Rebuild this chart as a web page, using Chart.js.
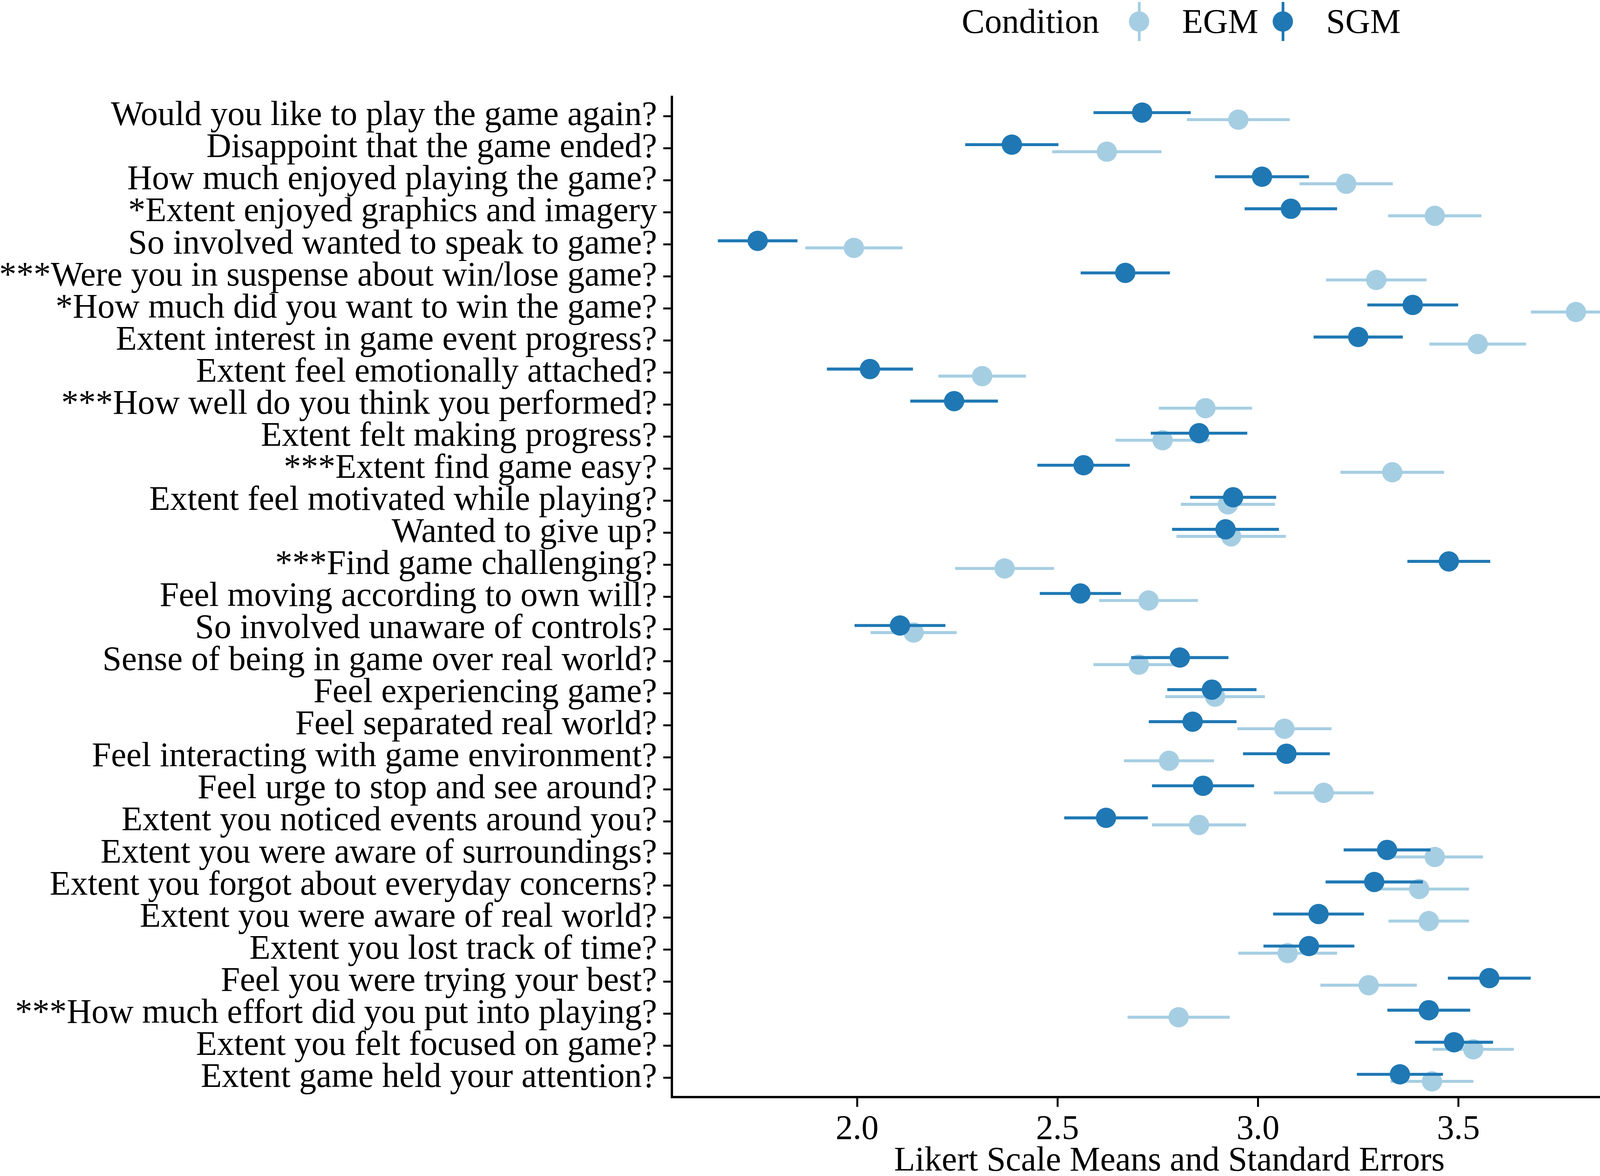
<!DOCTYPE html>
<html>
<head>
<meta charset="utf-8">
<script src="https://cdn.jsdelivr.net/npm/chart.js@4.4.0/dist/chart.umd.min.js"></script>
<style>
  html, body { margin: 0; padding: 0; background: #fff; }
  #wrap { position: relative; width: 4317px; height: 3010px; overflow: hidden; }
  #chart { position: absolute; left: 0; top: 0; }
  .lg-text { position: absolute; font-family: 'Liberation Serif', serif; font-size: 88px; line-height: 88px; color: #000; white-space: nowrap; }
  .lg-line { position: absolute; width: 7px; height: 100px; top: 5px; }
  .lg-dot { position: absolute; width: 52px; height: 52px; border-radius: 50%; top: 29px; }
</style>
</head>
<body>
<div id="wrap">
  <canvas id="chart" width="4317" height="3010"></canvas>
  <div class="lg-text" style="left:2462px; top:11px;">Condition</div>
  <div class="lg-line" style="left:2913px; background:#a6cee3;"></div>
  <div class="lg-dot" style="left:2890px; background:#a6cee3;"></div>
  <div class="lg-text" style="left:3026px; top:11px;">EGM</div>
  <div class="lg-line" style="left:3281px; background:#1f78b4;"></div>
  <div class="lg-dot" style="left:3258px; background:#1f78b4;"></div>
  <div class="lg-text" style="left:3395px; top:11px;">SGM</div>
</div>
<script>
(function () {
  const COLORS = { EGM: '#a6cee3', SGM: '#1f78b4' };

  const LABELS = [
    'Would you like to play the game again?',
    'Disappoint that the game ended?',
    'How much enjoyed playing the game?',
    '*Extent enjoyed graphics and imagery',
    'So involved wanted to speak to game?',
    '***Were you in suspense about win/lose game?',
    '*How much did you want to win the game?',
    'Extent interest in game event progress?',
    'Extent feel emotionally attached?',
    '***How well do you think you performed?',
    'Extent felt making progress?',
    '***Extent find game easy?',
    'Extent feel motivated while playing?',
    'Wanted to give up?',
    '***Find game challenging?',
    'Feel moving according to own will?',
    'So involved unaware of controls?',
    'Sense of being in game over real world?',
    'Feel experiencing game?',
    'Feel separated real world?',
    'Feel interacting with game environment?',
    'Feel urge to stop and see around?',
    'Extent you noticed events around you?',
    'Extent you were aware of surroundings?',
    'Extent you forgot about everyday concerns?',
    'Extent you were aware of real world?',
    'Extent you lost track of time?',
    'Feel you were trying your best?',
    '***How much effort did you put into playing?',
    'Extent you felt focused on game?',
    'Extent game held your attention?',
  ];

  const SGM_MEAN = [2.711, 2.386, 3.010, 3.082, 1.752, 2.669, 3.386, 3.250, 2.032, 2.242,
                    2.853, 2.565, 2.938, 2.919, 3.476, 2.557, 2.107, 2.805, 2.885, 2.837,
                    3.071, 2.863, 2.621, 3.322, 3.290, 3.151, 3.127, 3.577, 3.426, 3.489, 3.354];
  const SGM_SE   = [0.121, 0.116, 0.117, 0.115, 0.099, 0.111, 0.113, 0.111, 0.107, 0.109,
                    0.120, 0.115, 0.107, 0.133, 0.103, 0.101, 0.113, 0.121, 0.111, 0.109,
                    0.108, 0.127, 0.104, 0.108, 0.121, 0.113, 0.113, 0.103, 0.103, 0.097, 0.107];
  const EGM_MEAN = [2.951, 2.623, 3.220, 3.441, 1.992, 3.295, 3.793, 3.548, 2.312, 2.869,
                    2.762, 3.335, 2.925, 2.933, 2.368, 2.727, 2.141, 2.703, 2.893, 3.066,
                    2.778, 3.164, 2.853, 3.441, 3.402, 3.426, 3.074, 3.276, 2.802, 3.537, 3.434];
  const EGM_SE   = [0.128, 0.136, 0.116, 0.116, 0.121, 0.125, 0.112, 0.120, 0.109, 0.116,
                    0.117, 0.129, 0.117, 0.136, 0.123, 0.123, 0.107, 0.113, 0.124, 0.117,
                    0.112, 0.124, 0.117, 0.120, 0.124, 0.100, 0.123, 0.120, 0.127, 0.101, 0.103];

  const X_TICKS = [2.0, 2.5, 3.0, 3.5, 4.0];
  const DODGE = 0.11;   // SGM sits a little above, EGM a little below each row

  const FONT = "'Liberation Serif', 'Times New Roman', serif";
  Chart.defaults.font.family = FONT;
  Chart.defaults.color = '#000';

  const pts = (mean, off) => mean.map((m, i) => ({ x: m, y: i + 1 + off }));
  const bars = (mean, se, off) => mean.map((m, i) => ({ x: [m - se[i], m + se[i]], y: i + 1 + off }));

  const barDs = (name, mean, se, off, order) => ({
    type: 'bar',
    label: name + ' SE',
    indexAxis: 'y',
    data: bars(mean, se, off),
    backgroundColor: COLORS[name],
    borderWidth: 0,
    barThickness: 7,
    grouped: false,
    order: order,
  });

  const ptDs = (name, mean, off, order) => ({
    type: 'scatter',
    label: name,
    data: pts(mean, off),
    backgroundColor: COLORS[name],
    borderWidth: 0,
    pointRadius: 26,
    pointHoverRadius: 26,
    order: order,
  });

  new Chart(document.getElementById('chart'), {
    type: 'scatter',
    data: {
      datasets: [
        ptDs('SGM', SGM_MEAN, -DODGE, 0),
        barDs('SGM', SGM_MEAN, SGM_SE, -DODGE, 1),
        ptDs('EGM', EGM_MEAN, DODGE, 2),
        barDs('EGM', EGM_MEAN, EGM_SE, DODGE, 3),
      ],
    },
    options: {
      responsive: false,
      devicePixelRatio: 1,
      animation: false,
      layout: { padding: { top: 248, right: 33, left: 0, bottom: 0 } },
      plugins: {
        legend: { display: false },
        tooltip: { enabled: false },
      },
      scales: {
        x: {
          type: 'linear',
          min: 1.538,
          max: 4.02,
          offset: false,
          afterBuildTicks: s => { s.ticks = X_TICKS.map(v => ({ value: v })); },
          afterFit: s => { s.height = 202; },
          grid: { display: true, drawOnChartArea: false, drawTicks: true, offset: false,
                  tickLength: 25, tickWidth: 5, tickColor: '#000' },
          border: { display: true, color: '#000', width: 6 },
          ticks: { font: { size: 88, lineHeight: 1 }, padding: 15, color: '#000',
                   maxRotation: 0, callback: v => v.toFixed(1) },
          title: { display: true, text: 'Likert Scale Means and Standard Errors',
                   font: { size: 88, lineHeight: 1 }, padding: { top: 0, bottom: -7 }, color: '#000' },
        },
        y: {
          type: 'linear',
          min: 0.4,
          max: 31.6,
          reverse: true,
          offset: false,
          afterBuildTicks: s => { s.ticks = LABELS.map((_, i) => ({ value: i + 1 })); },
          afterFit: s => { s.width = 1720; },
          grid: { display: true, drawOnChartArea: false, drawTicks: true, offset: false,
                  tickLength: 22, tickWidth: 5, tickColor: '#000' },
          border: { display: true, color: '#000', width: 6 },
          ticks: { font: { size: 88, lineHeight: 1 }, padding: 16, color: '#000', autoSkip: false,
                   callback: v => LABELS[Math.round(v) - 1] || '' },
        },
      },
    },
  });
})();
</script>
</body>
</html>
